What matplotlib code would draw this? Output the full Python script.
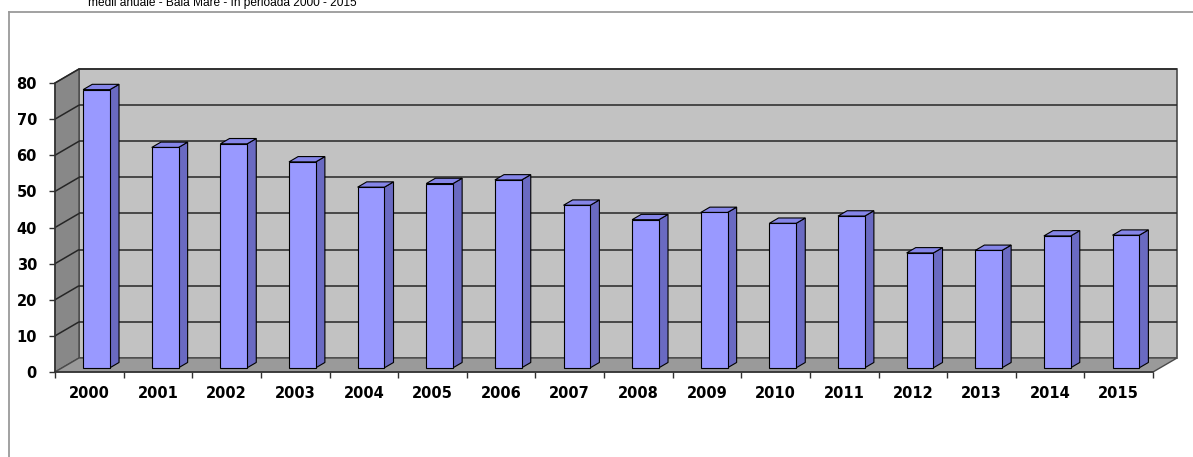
import matplotlib
matplotlib.use("Agg")
import matplotlib.pyplot as plt
from matplotlib import font_manager
from matplotlib.patches import Polygon
from matplotlib.lines import Line2D

# Annual means, Baia Mare, 2000-2015
years = ["2000", "2001", "2002", "2003", "2004", "2005", "2006", "2007",
         "2008", "2009", "2010", "2011", "2012", "2013", "2014", "2015"]
values = [77, 61, 62, 57, 50, 51, 52, 45, 41, 43, 40, 42, 31.8, 32.5, 36.5, 36.7]
y_ticks = [0, 10, 20, 30, 40, 50, 60, 70, 80]
title = "medii anuale - Baia Mare - în perioada 2000 - 2015"

W, H, DPI = 1193, 457, 100
fig = plt.figure(figsize=(W / DPI, H / DPI), dpi=DPI)
fig.patch.set_facecolor("white")

n = len(years)
ymax = y_ticks[-1]

# front plane of the 3-D box in figure pixels
left_px, right_px, base_px, top_px = 55, 1153, 372, 83
ax = fig.add_axes([left_px / W, (H - base_px) / H,
                   (right_px - left_px) / W, (base_px - top_px) / H])
ax.set_xlim(0, n)
ax.set_ylim(0, ymax)
ax.set_facecolor("none")

# depth offset of the back wall, in data units
DX = 24 / ((right_px - left_px) / n)
DY = 14 / ((base_px - top_px) / ymax)

wall_edge = "#4a4a4a"
grid_col = "#262626"

def poly(pts, fc, ec="none", lw=0.0, z=1):
    ax.add_patch(Polygon(pts, closed=True, facecolor=fc, edgecolor=ec,
                         linewidth=lw, zorder=z, clip_on=False))

def seg(p, q, color=grid_col, lw=1.1, z=3):
    ax.add_line(Line2D([p[0], q[0]], [p[1], q[1]], color=color, lw=lw,
                       zorder=z, clip_on=False, solid_capstyle="butt"))

# back wall, side wall, floor
poly([(DX, DY), (n + DX, DY), (n + DX, ymax + DY), (DX, ymax + DY)],
     "#c2c2c2", wall_edge, 1.2, 1)
poly([(0, 0), (DX, DY), (DX, ymax + DY), (0, ymax)], "#888888", wall_edge, 1.0, 1)
poly([(0, 0), (n, 0), (n + DX, DY), (DX, DY)], "#9a9a9a", wall_edge, 1.0, 2)

# gridlines on back and side walls
for v in y_ticks[1:]:
    seg((DX, v + DY), (n + DX, v + DY))
    seg((0, v), (DX, v + DY))

# 3-D columns
bar_w = 0.39
t0, depth = 0.30, 0.38
front_c, side_c, top_c = "#9999ff", "#6a6ac2", "#8585e8"
for i, v in enumerate(values):
    x0 = i + (1 - bar_w) / 2 + t0 * DX
    x1 = x0 + bar_w
    y0 = t0 * DY
    ddx, ddy = depth * DX, depth * DY
    poly([(x1, y0), (x1 + ddx, y0 + ddy), (x1 + ddx, y0 + v + ddy), (x1, y0 + v)],
         side_c, "black", 0.8, 5)
    poly([(x0, y0 + v), (x1, y0 + v), (x1 + ddx, y0 + v + ddy), (x0 + ddx, y0 + v + ddy)],
         top_c, "black", 0.8, 5)
    poly([(x0, y0), (x1, y0), (x1, y0 + v), (x0, y0 + v)],
         front_c, "black", 0.8, 6)

# axes, ticks and labels
for s in ("top", "right"):
    ax.spines[s].set_visible(False)
for s in ("left", "bottom"):
    ax.spines[s].set_color("#303030")
    ax.spines[s].set_linewidth(1.1)
    ax.spines[s].set_zorder(7)

tick_font = dict(family="DejaVu Sans", weight="bold", size=10.5)
ax.set_yticks(y_ticks)
ax.set_yticklabels([str(t) for t in y_ticks], fontdict=tick_font)
ax.tick_params(axis="y", direction="out", length=4, width=1.0, color="#303030", pad=9)

ax.set_xticks([i + 0.5 for i in range(n)])
ax.set_xticklabels(years, fontdict=tick_font)
ax.set_xticks(range(n + 1), minor=True)
ax.tick_params(axis="x", which="major", length=0, pad=10)
ax.tick_params(axis="x", which="minor", direction="out", length=4, width=1.0, color="#303030")

# chart frame
frame = "#9a9a9a"
fig.add_artist(Line2D([9 / W, 1.0], [1 - 12 / H, 1 - 12 / H], transform=fig.transFigure,
                      color=frame, lw=1.3))
fig.add_artist(Line2D([9 / W, 9 / W], [1 - 12 / H, 0.0], transform=fig.transFigure,
                      color=frame, lw=1.3))

# title, a narrow face if one is available
try:
    font_manager.findfont("Liberation Sans Narrow", fallback_to_default=False)
    title_family, title_size = "Liberation Sans Narrow", 10.5
except Exception:
    title_family, title_size = "Liberation Sans", 8.6
fig.text(88 / W, 1 - 6 / H, title, ha="left", va="baseline",
         family=title_family, size=title_size, color="black")

fig.savefig("out.png", dpi=DPI, facecolor="white")
